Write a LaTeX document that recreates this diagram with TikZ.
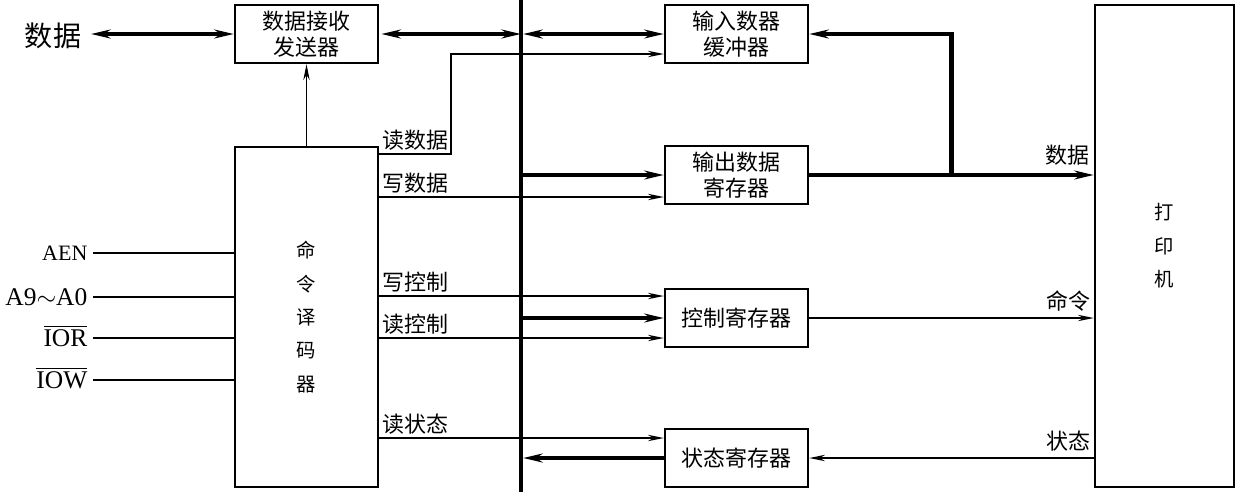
\documentclass[tikz,border=0pt]{standalone}
\usepackage{fontspec}
\setmainfont{Liberation Serif}
\newfontfamily\cjk{Noto Sans CJK SC}
\usetikzlibrary{arrows.meta,positioning,calc}
\tikzset{
  box/.style={draw,line width=1.4pt,minimum width=2.86cm,minimum height=1.16cm,inner sep=0pt,align=center,font=\cjk\fontsize{12.5}{15}\selectfont},
  tall/.style={font=\cjk\fontsize{11}{19}\selectfont},
  tag/.style={font=\cjk\fontsize{12.5}{15}\selectfont,inner sep=1.5pt},
  pin/.style={font=\fontsize{14.5}{16}\selectfont,inner ysep=1pt,inner xsep=3pt,anchor=east},
  wire/.style={line width=0.9pt},
  sig/.style={line width=0.9pt,-{Stealth[length=9pt,width=3.6pt]}},
  fat/.style={line width=2.4pt,-{Stealth[length=11pt,width=5pt]}},
  fatboth/.style={line width=2.4pt,{Stealth[length=11pt,width=5pt]}-{Stealth[length=11pt,width=5pt]}},
}
\begin{document}
\begin{tikzpicture}[x=0.02cm,y=-0.02cm]
\useasboundingbox (0,0) rectangle (1237,495);
% boxes
\node[box] (xcvr) at (306.5,34) {数据接收\\发送器};
\node[box,tall,minimum height=6.8cm] (dec) at (306.5,317) {命\\令\\译\\码\\器};
\node[box] (inbuf) at (736.5,34) {输入数器\\缓冲器};
\node[box] (outreg) at (736.5,175) {输出数据\\寄存器};
\node[box] (ctrl) at (736.5,318) {控制寄存器};
\node[box] (stat) at (736.5,458) {状态寄存器};
\node[box,tall,minimum width=2.78cm,minimum height=9.64cm] (prn) at (1164.5,246) {打\\印\\机};
% bus
\coordinate (bt) at (521,0); \coordinate (bb) at (521,492);
\draw[line width=2.4pt] (bt)--(bb);
% data side
\node[font=\cjk\fontsize{16}{18}\selectfont,inner sep=0pt] (dl) at (53,36) {数据};
\coordinate (dpt) at (91,34);
\draw[fatboth] (dpt) -- (dpt -| xcvr.west);
\draw[fatboth,shorten <=1.2pt] (xcvr.east) -- (xcvr.east -| bt);
\draw[fatboth,shorten <=1.2pt] (inbuf.west -| bt) -- (inbuf.west);
\draw[line width=0.6pt,-{Stealth[length=9pt,width=3.6pt]}] (dec.north) -- (xcvr.south);
\draw[sig] (dec.east |- 0,154) -- node[tag,above right,pos=0]{读数据} (451,154) |- (inbuf.west |- 0,54);
\draw[sig] (dec.east |- 0,197) -- node[tag,above right,pos=0]{写数据} (outreg.west |- 0,197);
\draw[fat,shorten <=1.2pt] (outreg.west -| bt) -- (outreg.west);
\draw[fat] (outreg.east) -- node[tag,above left,pos=1,yshift=3pt]{数据} (outreg.east -| prn.west);
\draw[fat] ($(outreg.east)!0.5!(outreg.east -| prn.west)$) |- (inbuf.east);
% control
\draw[sig] (dec.east |- 0,296) -- node[tag,above right,pos=0]{写控制} (ctrl.west |- 0,296);
\draw[fat,shorten <=1.2pt] (ctrl.west -| bt) -- (ctrl.west);
\draw[sig] (dec.east |- 0,338) -- node[tag,above right,pos=0]{读控制} (ctrl.west |- 0,338);
\draw[sig] (ctrl.east) -- node[tag,above left,pos=1,yshift=2pt]{命令} (ctrl.east -| prn.west);
% status
\draw[sig] (dec.east |- 0,438) -- node[tag,above right,pos=0]{读状态} (stat.west |- 0,438);
\draw[fat,shorten >=1.2pt] (stat.west) -- (stat.west -| bt);
\draw[sig] (stat.east -| prn.west) -- node[tag,above left,pos=0,yshift=2pt]{状态} (stat.east);
% inputs
\node[pin,font=\fontsize{12.5}{14}\selectfont] (aen) at (93,253) {AEN};
\node[pin] (addr) at (93,297) {A9$\sim$A0};
\node[pin] (ior) at (93,336) {$\overline{\hbox{IOR}}$};
\node[pin] (iow) at (93,378) {$\overline{\hbox{IOW}}$};
\draw[wire] (aen.east) -- (aen.east -| dec.west);
\draw[wire] (addr.east) -- (addr.east -| dec.west);
\draw[wire] (ior.east |- 0,338) -- (dec.west |- 0,338);
\draw[wire] (iow.east |- 0,380) -- (dec.west |- 0,380);
\end{tikzpicture}
\end{document}
